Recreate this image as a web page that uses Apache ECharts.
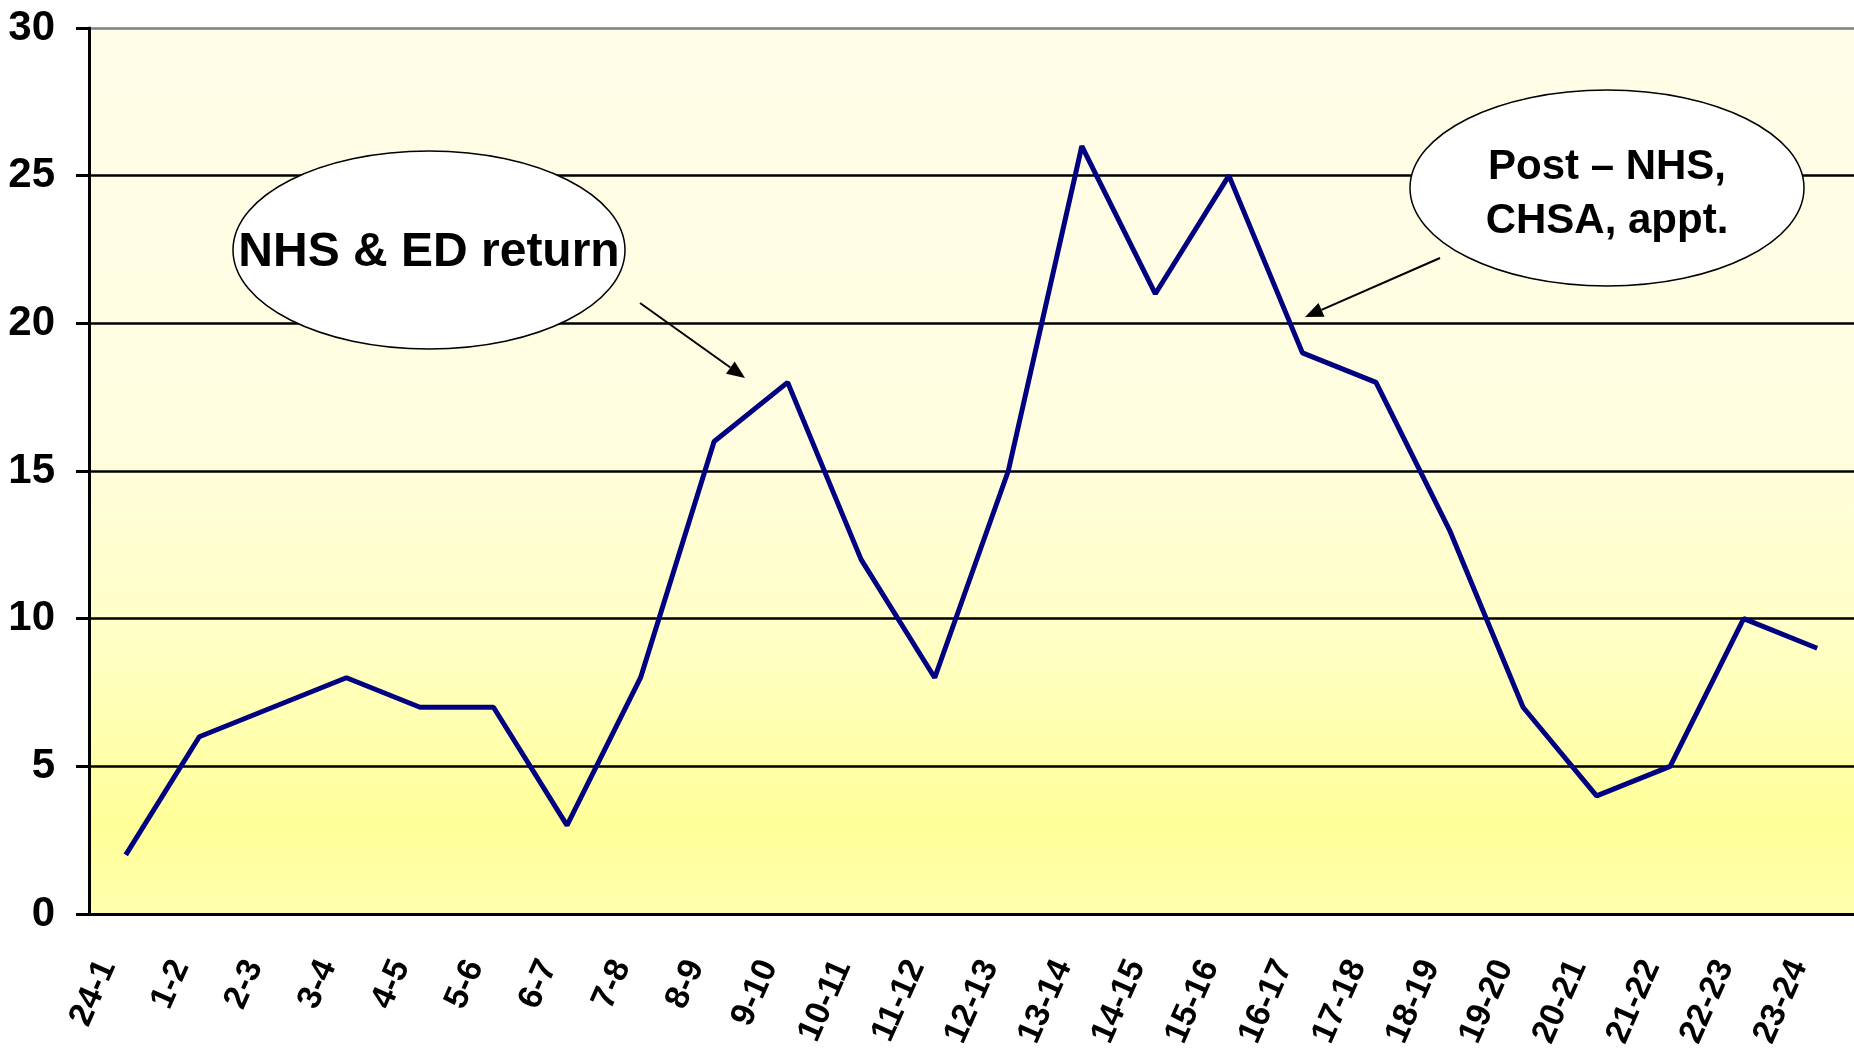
<!DOCTYPE html>
<html>
<head>
<meta charset="utf-8">
<script src="https://cdn.jsdelivr.net/npm/echarts@6/dist/echarts.min.js"></script>
<style>
    html, body { margin: 0; padding: 0; background: #fff; }
    #grafico { width: 1854px; height: 1053px; }
</style>
</head>
<body>
<div id="grafico" data-grafico></div>
<script>
const categorias = ['24-1', '1-2', '2-3', '3-4', '4-5', '5-6', '6-7', '7-8', '8-9', '9-10', '10-11', '11-12',
    '12-13', '13-14', '14-15', '15-16', '16-17', '17-18', '18-19', '19-20', '20-21', '21-22', '22-23', '23-24']
const valores = [2, 6, 7, 8, 7, 7, 3, 8, 16, 18, 12, 8, 15, 26, 21, 25, 19, 18, 13, 7, 4, 5, 10, 9]
const ticksY = [0, 5, 10, 15, 20, 25, 30]

const fonte = 'Arial, "Liberation Sans", sans-serif'

const seta = (x1, y1, x2, y2) => {
    const ang = Math.atan2(y2 - y1, x2 - x1)
    const comp = 18
    const larg = 7.5
    const bx = x2 - comp * Math.cos(ang)
    const by = y2 - comp * Math.sin(ang)
    const px = -Math.sin(ang) * larg
    const py = Math.cos(ang) * larg
    return [{
        type: 'line',
        shape: { x1, y1, x2: bx, y2: by },
        style: { stroke: '#000', lineWidth: 2 },
        z: 100
    }, {
        type: 'polygon',
        shape: { points: [[x2, y2], [bx + px, by + py], [bx - px, by - py]] },
        style: { fill: '#000' },
        z: 100
    }]
}

const balao = (cx, cy, rx, ry, texto, tamanho, altura, dy) => [{
    type: 'ellipse',
    shape: { cx, cy, rx, ry },
    style: { fill: '#fff', stroke: '#000', lineWidth: 1.5 },
    z: 100
}, {
    type: 'text',
    x: cx,
    y: cy + dy,
    style: {
        text: texto,
        fill: '#000',
        font: `bold ${tamanho}px ${fonte}`,
        lineHeight: altura,
        align: 'center',
        verticalAlign: 'middle'
    },
    z: 101
}]

const dom = document.querySelector('[data-grafico]')
const myChart = echarts.init(dom, null, { renderer: 'canvas' })

const option = {
    animation: false,
    grid: {
        left: 89,
        right: 0,
        top: 28,
        bottom: 139,
        show: true,
        borderWidth: 0,
        backgroundColor: new echarts.graphic.LinearGradient(0, 0, 0, 1, [
            { offset: 0, color: '#FFFDE8' },
            { offset: 0.45, color: '#FFFDE0' },
            { offset: 0.7, color: '#FFFFC4' },
            { offset: 0.9, color: '#FFFF99' },
            { offset: 1, color: '#FFFFAE' }
        ])
    },
    xAxis: {
        type: 'category',
        data: categorias,
        boundaryGap: true,
        axisLine: { lineStyle: { color: '#000', width: 3 } },
        axisTick: { length: 14, lineStyle: { color: '#000', width: 3 } },
        axisLabel: {
            rotate: 66,
            margin: 6,
            padding: [0, 46, 0, 0],
            interval: 0,
            color: '#000',
            fontSize: 34,
            fontWeight: 'bold',
            fontFamily: fonte
        }
    },
    yAxis: {
        type: 'value',
        min: ticksY[0],
        max: ticksY[ticksY.length - 1],
        interval: 5,
        axisLine: { show: true, lineStyle: { color: '#000', width: 3 } },
        axisTick: { show: true, length: 13, lineStyle: { color: '#000', width: 3 } },
        axisLabel: {
            margin: 34,
            color: '#000',
            fontSize: 42,
            fontWeight: 'bold',
            fontFamily: fonte
        },
        splitLine: {
            lineStyle: {
                color: ['#000', '#000', '#000', '#000', '#000', '#000', '#808080'],
                width: 2.5
            }
        }
    },
    series: [{
        type: 'line',
        data: valores,
        symbol: 'none',
        lineStyle: { color: '#000080', width: 5 },
        z: 5
    }],
    graphic: [
        ...balao(429, 250, 196, 99, 'NHS & ED return', 48, 53, 3),
        ...balao(1607, 188, 197, 98, 'Post \u2013 NHS,\nCHSA, appt.', 42, 54, 6),
        ...seta(640, 303, 745, 378),
        ...seta(1440, 258, 1305, 317)
    ]
}

myChart.setOption(option)
</script>
</body>
</html>
